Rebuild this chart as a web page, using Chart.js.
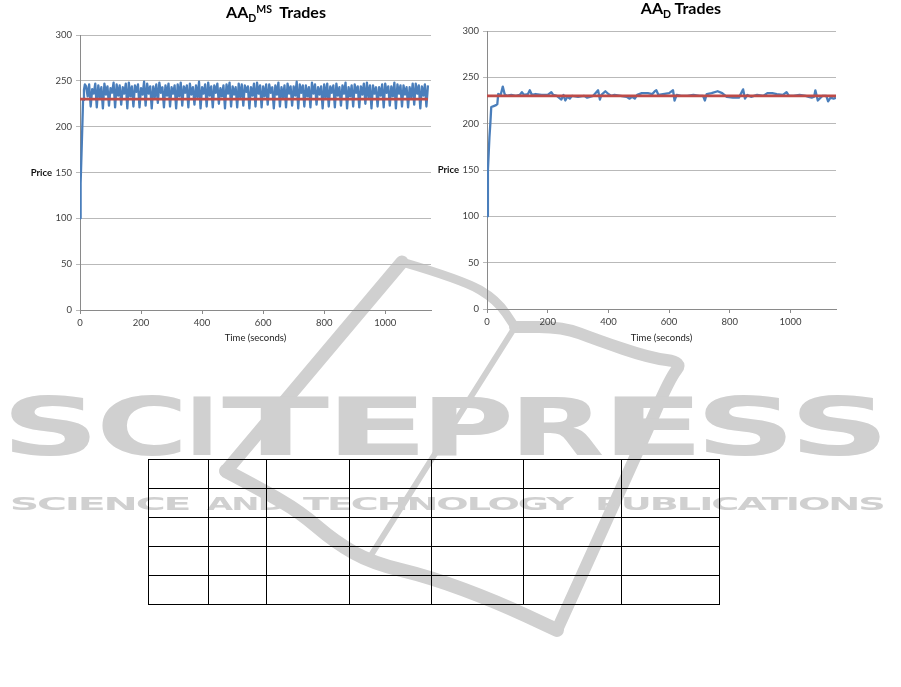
<!DOCTYPE html>
<html>
<head>
<meta charset="utf-8">
<script src="https://cdn.jsdelivr.net/npm/chart.js@4.4.1/dist/chart.umd.min.js"></script>
<style>
body { margin: 0; background: #fff; }
#page { position: relative; width: 901px; height: 687px; overflow: hidden; font-family: Lato, sans-serif; }
#mark { position: absolute; left: 0; top: 0; }
.box { position: absolute; top: 0; height: 350px; }
.ttl { position: absolute; width: 200px; text-align: center; font-weight: bold; font-size: 16px; line-height: 16px; white-space: nowrap; color: #000; }
.ttl .sb, .ttl .sp { font-size: 10.5px; position: relative; }
.ttl .sb { top: 4px; }
.ttl .sp { top: -5px; }
table { position: absolute; left: 148px; top: 459px; border-collapse: collapse; table-layout: fixed; }
td { border: 1.5px solid #000; padding: 0; }
tr { height: 29px; }
</style>
</head>
<body>
<div id="page">
  <canvas id="mark" width="901" height="687"></canvas>

  <div class="ttl" style="left:176px; top:4px;">AA<span class="sb">D</span><span class="sp">MS</span>&nbsp; Trades</div>
  <div class="ttl" style="left:581px; top:0px;">AA<span class="sb">D</span> Trades</div>

  <div class="box" style="left:0; width:432px;"><canvas id="leftChart"></canvas></div>
  <div class="box" style="left:432px; width:428px;"><canvas id="rightChart"></canvas></div>

  <table>
    <colgroup>
      <col style="width:60px"><col style="width:58px"><col style="width:83px"><col style="width:82px">
      <col style="width:92px"><col style="width:98px"><col style="width:98px">
    </colgroup>
    <tr><td></td><td></td><td></td><td></td><td></td><td></td><td></td></tr>
    <tr><td></td><td></td><td></td><td></td><td></td><td></td><td></td></tr>
    <tr><td></td><td></td><td></td><td></td><td></td><td></td><td></td></tr>
    <tr><td></td><td></td><td></td><td></td><td></td><td></td><td></td></tr>
    <tr><td></td><td></td><td></td><td></td><td></td><td></td><td></td></tr>
  </table>
</div>

<script>
// ---- data ----

// AA_D^MS : start-up climb, then trades every 5 s from t = 20
const leftRiseTimes = [0, 2, 5, 8, 10, 13, 16];
const leftRisePrices = [100, 138, 171, 205, 229, 240, 246];
const leftStartTime = 20;
const leftStep = 5;
const leftPrices = [
  244,233,246,222, 241,236,247,221, 245,232,243,220, 247,235,244,223,
  242,237,248,221, 246,234,245,224, 243,236,247,220, 248,233,244,222,
  245,238,246,221, 242,235,249,223, 247,236,244,220, 244,232,246,226,
  248,237,243,221, 245,234,247,222, 243,236,245,220, 246,233,248,223,
  244,237,245,221, 247,235,243,224, 245,232,249,220, 243,236,246,222,
  248,234,244,221, 245,237,247,225, 242,233,245,220, 246,236,248,222,
  244,235,243,221, 247,232,246,223, 245,238,244,220, 243,234,247,222,
  248,236,245,221, 244,233,246,224, 246,237,243,220, 245,235,248,222,
  243,232,245,221, 247,236,244,223, 244,234,249,220, 246,237,245,222,
  245,233,243,221, 248,236,246,224, 243,235,244,220, 246,232,247,222,
  244,237,245,221, 247,234,243,223, 245,236,248,220, 243,233,245,222,
  246,237,244,221, 244,235,247,225, 248,232,245,220, 245,236,243,222,
  243,234,246,221, 247,237,244,223, 244,233,248,220, 246,236,245,222,
  245,235,243,221, 243,232,247,224, 247,236,245,220, 244,234,246,222,
  245
];

// AA_D
const rightTimes = [
  0,3,8,11,14, 22,30,34,37,45, 52,58,65,80,95, 108,115,122,135,141,
  148,160,180,200,212, 218,230,245,252,258, 265,273,280,300,320, 330,350,366,372,377,
  390,400,410,420,440, 460,470,478,487,495, 510,530,545,553,558, 565,580,600,613,618,
  625,640,660,680,700, 712,718,724,740,760, 775,790,810,830,844, 850,858,870,890,910,
  925,940,955,975,987, 995,1010,1030,1050,1060, 1070,1078,1082,1090,1105, 1118,1124,1132,1142,1150
];
const rightPrices = [
  100,150,185,200,218, 219,220,221,232,231, 240,232,230,231,230, 231,234,231,232,236,
  231,232,231,231,234, 231,230,226,231,225, 229,227,230,229,230, 228,230,236,226,231,
  235,232,230,231,230, 229,227,229,227,231, 233,233,232,235,236, 231,232,233,236,225,
  231,230,230,231,230, 230,225,232,233,235, 233,229,228,228,237, 227,231,229,231,230,
  233,233,232,231,234, 230,230,231,230,229, 228,229,236,225,230, 230,224,228,227,228
];

// equilibrium price lines
const leftEq = 230, leftEqEnd = 1140;
const rightEq = 230, rightEqEnd = 1150;

const xMax = 1150;
const yMax = 300;

// ---- charts ----
Chart.defaults.font.family = 'Lato';
Chart.defaults.animation = false;

const blue = '#4a7ebb';
const red = '#be4b48';
const gridGrey = '#b9b9b9';
const axisGrey = '#8a8a8a';
const tickFont = { family: 'Lato', size: 9.5 };

const leftPoints = leftRiseTimes.map((t, i) => ({ x: t, y: leftRisePrices[i] }))
  .concat(leftPrices.map((p, i) => ({ x: leftStartTime + i * leftStep, y: p })));
const rightPoints = rightTimes.map((t, i) => ({ x: t, y: rightPrices[i] }));

// horizontal "Price" label beside the value axis
const priceLabel = {
  id: 'priceLabel',
  afterDraw(chart) {
    const ctx = chart.ctx;
    const y = chart.scales.y;
    ctx.save();
    ctx.font = 'bold 9.5px Lato';
    ctx.fillStyle = '#111';
    ctx.textAlign = 'right';
    ctx.textBaseline = 'middle';
    ctx.fillText('Price', chart.chartArea.left - 28, (y.top + y.bottom) / 2);
    ctx.restore();
  }
};

function makeChart(id, points, eq, eqEnd, pad, yWidth, xHeight) {
  return new Chart(document.getElementById(id), {
    type: 'line',
    plugins: [priceLabel],
    data: {
      datasets: [
        { data: points, borderColor: blue, borderWidth: 2.3, borderJoinStyle: 'round', pointRadius: 0, tension: 0, order: 1 },
        { data: [{ x: 0, y: eq }, { x: eqEnd, y: eq }], borderColor: red, borderWidth: 2.8, pointRadius: 0, order: 0 }
      ]
    },
    options: {
      responsive: true,
      maintainAspectRatio: false,
      layout: { padding: pad },
      plugins: { legend: { display: false }, tooltip: { enabled: false } },
      scales: {
        x: {
          type: 'linear', min: 0, max: xMax,
          afterBuildTicks: s => { s.ticks = s.ticks.filter(t => t.value % 200 === 0); },
          afterFit: s => { s.height = xHeight; },
          ticks: { stepSize: 200, color: '#404040', font: tickFont, padding: 3, maxRotation: 0, callback: v => String(v) },
          grid: { drawOnChartArea: false, drawTicks: true, tickLength: 4, color: axisGrey },
          border: { color: axisGrey },
          title: { display: true, text: 'Time (seconds)', color: '#222', font: { family: 'Lato', size: 9.5 }, padding: { top: 0, bottom: 6 } }
        },
        y: {
          min: 0, max: yMax,
          afterFit: s => { s.width = yWidth; },
          ticks: { stepSize: 50, color: '#404040', font: tickFont, padding: 4 },
          grid: { color: gridGrey, tickLength: 4 },
          border: { color: axisGrey }
        }
      }
    }
  });
}

makeChart('leftChart', leftPoints, leftEq, leftEqEnd, { top: 35, right: 1, bottom: 0, left: 0 }, 80, 40);
makeChart('rightChart', rightPoints, rightEq, rightEqEnd, { top: 31, right: 24, bottom: 0, left: 0 }, 55, 41);

// ---- publisher watermark behind everything ----
(function () {
  const ctx = document.getElementById('mark').getContext('2d');
  const grey = '#d0d0d0';
  ctx.fillStyle = grey;
  ctx.strokeStyle = grey;
  ctx.lineCap = 'round';
  ctx.lineJoin = 'round';

  function smooth(pts, w) {
    ctx.lineWidth = w;
    ctx.beginPath();
    ctx.moveTo(pts[0][0], pts[0][1]);
    for (let i = 1; i < pts.length - 1; i++) {
      const mx = (pts[i][0] + pts[i + 1][0]) / 2, my = (pts[i][1] + pts[i + 1][1]) / 2;
      ctx.quadraticCurveTo(pts[i][0], pts[i][1], mx, my);
    }
    const last = pts[pts.length - 1];
    ctx.lineTo(last[0], last[1]);
    ctx.stroke();
  }

  // swoosh
  smooth([[402, 262], [226, 471]], 13);
  smooth([[226, 471], [262, 490], [300, 512], [335, 542], [372, 563], [430, 577], [497, 602], [557, 630]], 14);
  smooth([[557, 630], [640, 447], [670, 378], [683, 362], [650, 358], [597, 340], [563, 327], [515, 327]], 12);
  smooth([[402, 262], [463, 280], [497, 300], [515, 327]], 9);
  smooth([[515, 327], [368, 560]], 6);

  // big letters
  const letters = [['S', 10, 90], ['C', 101, 181], ['I', 193, 211], ['T', 222, 330], ['E', 338, 418],
                   ['P', 432, 510], ['R', 520, 602], ['E', 614, 694], ['S', 704, 786], ['S', 798, 880]];
  ctx.font = 'bold 80px "DejaVu Sans"';
  ctx.textBaseline = 'alphabetic';
  letters.forEach(([ch, x0, x1]) => {
    const m = ctx.measureText(ch);
    const ink = m.actualBoundingBoxLeft + m.actualBoundingBoxRight;
    ctx.save();
    ctx.translate(x0, 0);
    ctx.scale((x1 - x0) / ink, 1);
    ctx.fillText(ch, m.actualBoundingBoxLeft, 455);
    ctx.restore();
  });

  // sub line: words placed on their spans in the picture
  const words = [['SCIENCE', 12, 190], ['AND', 207, 285], ['TECHNOLOGY', 303, 575], ['PUBLICATIONS', 597, 883]];
  ctx.font = 'bold 18.5px "DejaVu Sans"';
  ctx.letterSpacing = '-1px';
  words.forEach(([w, x0, x1]) => {
    const m = ctx.measureText(w);
    const ink = m.actualBoundingBoxLeft + m.actualBoundingBoxRight;
    ctx.save();
    ctx.translate(x0, 0);
    ctx.scale((x1 - x0) / ink, 1);
    ctx.fillText(w, m.actualBoundingBoxLeft, 509.5);
    ctx.restore();
  });
})();
</script>
</body>
</html>
